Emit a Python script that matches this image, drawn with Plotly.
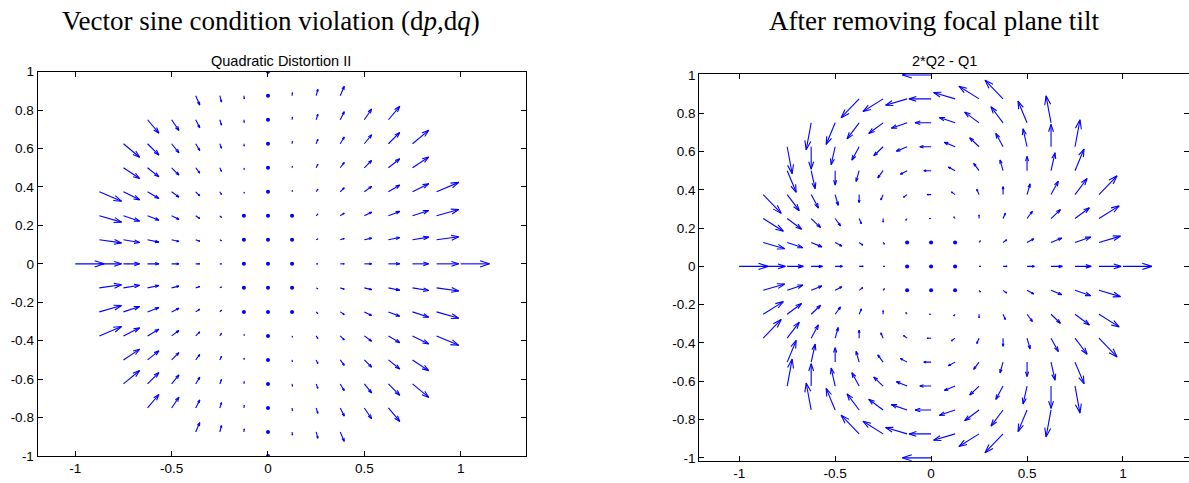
import numpy as np
import plotly.graph_objects as go

# ---------------- data ----------------
STEP = 0.125
ROW_Y = [1, 0.875, 0.75, 0.625, 0.5, 0.375, 0.25, 0.125, 0,
         -0.125, -0.25, -0.375, -0.5, -0.625, -0.75, -0.875, -1]
ROW_HALF = [0, 3, 5, 6, 6, 7, 7, 7, 8, 7, 7, 7, 6, 6, 5, 3, 0]  # grid points each side of x=0
UNIT = 0.001  # vector components below are in thousandths of an axis unit

LEFT_U = [
    [0],
    [21, 9, 2, 0, 2, 9, 21],
    [59, 38, 21, 9, 2, 0, 2, 9, 21, 38, 59],
    [84, 59, 38, 21, 9, 2, 0, 2, 9, 21, 38, 59, 84],
    [84, 59, 38, 21, 9, 2, 0, 2, 9, 21, 38, 59, 84],
    [115, 84, 59, 38, 21, 9, 2, 0, 2, 9, 21, 38, 59, 84, 115],
    [115, 84, 59, 38, 21, 9, 2, 0, 2, 9, 21, 38, 59, 84, 115],
    [115, 84, 59, 38, 21, 9, 2, 0, 2, 9, 21, 38, 59, 84, 115],
    [150, 115, 84, 59, 38, 21, 9, 2, 0, 2, 9, 21, 38, 59, 84, 115, 150],
    [115, 84, 59, 38, 21, 9, 2, 0, 2, 9, 21, 38, 59, 84, 115],
    [115, 84, 59, 38, 21, 9, 2, 0, 2, 9, 21, 38, 59, 84, 115],
    [115, 84, 59, 38, 21, 9, 2, 0, 2, 9, 21, 38, 59, 84, 115],
    [84, 59, 38, 21, 9, 2, 0, 2, 9, 21, 38, 59, 84],
    [84, 59, 38, 21, 9, 2, 0, 2, 9, 21, 38, 59, 84],
    [59, 38, 21, 9, 2, 0, 2, 9, 21, 38, 59],
    [21, 9, 2, 0, 2, 9, 21],
    [0],
]
LEFT_V = [
    [0],
    [-49, -33, -16, 0, 16, 33, 49],
    [-70, -56, -42, -28, -14, 0, 14, 28, 42, 56, 70],
    [-70, -59, -47, -35, -23, -12, 0, 12, 23, 35, 47, 59, 70],
    [-56, -47, -38, -28, -19, -9, 0, 9, 19, 28, 38, 47, 56],
    [-49, -42, -35, -28, -21, -14, -7, 0, 7, 14, 21, 28, 35, 42, 49],
    [-33, -28, -23, -19, -14, -9, -5, 0, 5, 9, 14, 19, 23, 28, 33],
    [-16, -14, -12, -9, -7, -5, -2, 0, 2, 5, 7, 9, 12, 14, 16],
    [0, 0, 0, 0, 0, 0, 0, 0, 0, 0, 0, 0, 0, 0, 0, 0, 0],
    [16, 14, 12, 9, 7, 5, 2, 0, -2, -5, -7, -9, -12, -14, -16],
    [33, 28, 23, 19, 14, 9, 5, 0, -5, -9, -14, -19, -23, -28, -33],
    [49, 42, 35, 28, 21, 14, 7, 0, -7, -14, -21, -28, -35, -42, -49],
    [56, 47, 38, 28, 19, 9, 0, -9, -19, -28, -38, -47, -56],
    [70, 59, 47, 35, 23, 12, 0, -12, -23, -35, -47, -59, -70],
    [70, 56, 42, 28, 14, 0, -14, -28, -42, -56, -70],
    [49, 33, 16, 0, -16, -33, -49],
    [0],
]

RIGHT_U = [
    [-150],
    [-94, -105, -112, -115, -112, -105, -94],
    [-26, -47, -63, -75, -82, -84, -82, -75, -63, -47, -26],
    [26, 0, -21, -38, -49, -56, -59, -56, -49, -38, -21, 0, 26],
    [47, 21, 0, -16, -28, -35, -38, -35, -28, -16, 0, 21, 47],
    [94, 63, 38, 16, 0, -12, -19, -21, -19, -12, 0, 16, 38, 63, 94],
    [105, 75, 49, 28, 12, 0, -7, -9, -7, 0, 12, 28, 49, 75, 105],
    [112, 82, 56, 35, 19, 7, 0, -2, 0, 7, 19, 35, 56, 82, 112],
    [150, 115, 84, 59, 38, 21, 9, 2, 0, 2, 9, 21, 38, 59, 84, 115, 150],
    [112, 82, 56, 35, 19, 7, 0, -2, 0, 7, 19, 35, 56, 82, 112],
    [105, 75, 49, 28, 12, 0, -7, -9, -7, 0, 12, 28, 49, 75, 105],
    [94, 63, 38, 16, 0, -12, -19, -21, -19, -12, 0, 16, 38, 63, 94],
    [47, 21, 0, -16, -28, -35, -38, -35, -28, -16, 0, 21, 47],
    [26, 0, -21, -38, -49, -56, -59, -56, -49, -38, -21, 0, 26],
    [-26, -47, -63, -75, -82, -84, -82, -75, -63, -47, -26],
    [-94, -105, -112, -115, -112, -105, -94],
    [-150],
]
RIGHT_V = [
    [0],
    [-98, -66, -33, 0, 33, 66, 98],
    [-141, -113, -84, -56, -28, 0, 28, 56, 84, 113, 141],
    [-141, -117, -94, -70, -47, -23, 0, 23, 47, 70, 94, 117, 141],
    [-113, -94, -75, -56, -38, -19, 0, 19, 38, 56, 75, 94, 113],
    [-98, -84, -70, -56, -42, -28, -14, 0, 14, 28, 42, 56, 70, 84, 98],
    [-66, -56, -47, -38, -28, -19, -9, 0, 9, 19, 28, 38, 47, 56, 66],
    [-33, -28, -23, -19, -14, -9, -5, 0, 5, 9, 14, 19, 23, 28, 33],
    [0, 0, 0, 0, 0, 0, 0, 0, 0, 0, 0, 0, 0, 0, 0, 0, 0],
    [33, 28, 23, 19, 14, 9, 5, 0, -5, -9, -14, -19, -23, -28, -33],
    [66, 56, 47, 38, 28, 19, 9, 0, -9, -19, -28, -38, -47, -56, -66],
    [98, 84, 70, 56, 42, 28, 14, 0, -14, -28, -42, -56, -70, -84, -98],
    [113, 94, 75, 56, 38, 19, 0, -19, -38, -56, -75, -94, -113],
    [141, 117, 94, 70, 47, 23, 0, -23, -47, -70, -94, -117, -141],
    [141, 113, 84, 56, 28, 0, -28, -56, -84, -113, -141],
    [98, 66, 33, 0, -33, -66, -98],
    [0],
]

X_TICKS = [-1, -0.5, 0, 0.5, 1]
X_TICKTEXT = ["-1", "-0.5", "0", "0.5", "1"]
Y_TICKS = [-1, -0.8, -0.6, -0.4, -0.2, 0, 0.2, 0.4, 0.6, 0.8, 1]
Y_TICKTEXT = ["-1", "-0.8", "-0.6", "-0.4", "-0.2", "0", "0.2", "0.4", "0.6", "0.8", "1"]

TITLE_LEFT = "Vector sine condition violation (d<i>p</i>,d<i>q</i>)"
SUB_LEFT = "Quadratic Distortion II"
TITLE_RIGHT = "After removing focal plane tilt"
SUB_RIGHT = "2*Q2 - Q1"

BLUE = "rgb(0,0,255)"
ALPHA, BETA = 0.33, 0.33  # arrow-head proportions


def flatten(rows_u, rows_v):
    xs, ys, us, vs = [], [], [], []
    for y, h, ru, rv in zip(ROW_Y, ROW_HALF, rows_u, rows_v):
        gx = np.arange(-h, h + 1) * STEP
        for x, u, v in zip(gx, ru, rv):
            xs.append(x); ys.append(y); us.append(u * UNIT); vs.append(v * UNIT)
    return np.array(xs), np.array(ys), np.array(us), np.array(vs)


def quiver_traces(rows_u, rows_v, xa, ya):
    x, y, u, v = flatten(rows_u, rows_v)
    lx, ly = [], []
    for xi, yi, ui, vi in zip(x, y, u, v):
        tx, ty = xi + ui, yi + vi
        lx += [xi, tx, None]
        ly += [yi, ty, None]
        lx += [tx - ALPHA * (ui + BETA * vi), tx, tx - ALPHA * (ui - BETA * vi), None]
        ly += [ty - ALPHA * (vi - BETA * ui), ty, ty - ALPHA * (vi + BETA * ui), None]
    mag = np.hypot(u, v)
    small = mag < 0.006
    lines = go.Scatter(x=lx, y=ly, mode="lines", line=dict(color=BLUE, width=1.1),
                       xaxis=xa, yaxis=ya, hoverinfo="skip", showlegend=False)
    dots = go.Scatter(x=x[small], y=y[small], mode="markers",
                      marker=dict(color=BLUE, size=4),
                      xaxis=xa, yaxis=ya, hoverinfo="skip", showlegend=False)
    return [lines, dots]


fig = go.Figure()
for t in quiver_traces(LEFT_U, LEFT_V, "x", "y"):
    fig.add_trace(t)
for t in quiver_traces(RIGHT_U, RIGHT_V, "x2", "y2"):
    fig.add_trace(t)

W, H = 1189, 483
tickfont = dict(family="Liberation Sans, Arial, sans-serif", size=13.5, color="black")
axis_common = dict(showline=True, linecolor="black", linewidth=1.2, mirror="ticks",
                   ticks="inside", ticklen=5, tickcolor="black", tickwidth=1,
                   showgrid=False, zeroline=False, tickfont=tickfont, fixedrange=True,
                   automargin=False)

fig.update_layout(
    width=W, height=H, autosize=False,
    margin=dict(l=0, r=0, t=0, b=0, pad=0, autoexpand=False),
    paper_bgcolor="white", plot_bgcolor="white",
    showlegend=False,
    xaxis=dict(domain=[37.7 / W, 526 / W], range=[-1.195, 1.339],
               tickvals=X_TICKS, ticktext=X_TICKTEXT, anchor="y", **axis_common),
    yaxis=dict(domain=[(H - 456) / H, (H - 71.7) / H], range=[-1, 1],
               tickvals=Y_TICKS, ticktext=Y_TICKTEXT, anchor="x", **axis_common),
    xaxis2=dict(domain=[699.3 / W, 1.0], range=[-1.208, 1.344],
                tickvals=X_TICKS, ticktext=X_TICKTEXT, anchor="y2", **axis_common),
    yaxis2=dict(domain=[(H - 460.7) / H, (H - 74) / H], range=[-1.015, 1.005],
                tickvals=Y_TICKS, ticktext=Y_TICKTEXT, anchor="x2", **axis_common),
)

serif = dict(family="Liberation Serif, Times New Roman, serif", size=27, color="black")
sans = dict(family="Liberation Sans, Arial, sans-serif", size=14.5, color="black")


def py(px):
    return (H - px) / H


fig.add_annotation(text=TITLE_LEFT, x=270.7 / W, y=py(21.5), xref="paper", yref="paper",
                   xanchor="center", yanchor="middle", showarrow=False, font=serif)
fig.add_annotation(text=TITLE_RIGHT, x=934 / W, y=py(21.5), xref="paper", yref="paper",
                   xanchor="center", yanchor="middle", showarrow=False, font=serif)
fig.add_annotation(text=SUB_LEFT, x=281 / W, y=py(61.5), xref="paper", yref="paper",
                   xanchor="center", yanchor="middle", showarrow=False, font=sans)
fig.add_annotation(text=SUB_RIGHT, x=944 / W, y=py(61.5), xref="paper", yref="paper",
                   xanchor="center", yanchor="middle", showarrow=False, font=sans)

fig.write_html(
    "out.html",
    config={"displayModeBar": False},
    post_script=(
        "var d=document.getElementById('{plot_id}');"
        "d.style.position='fixed';d.style.left='0px';d.style.top='0px';"
        "document.body.style.margin='0';document.body.style.overflow='hidden';"
        "document.documentElement.style.overflow='hidden';"
    ),
)
